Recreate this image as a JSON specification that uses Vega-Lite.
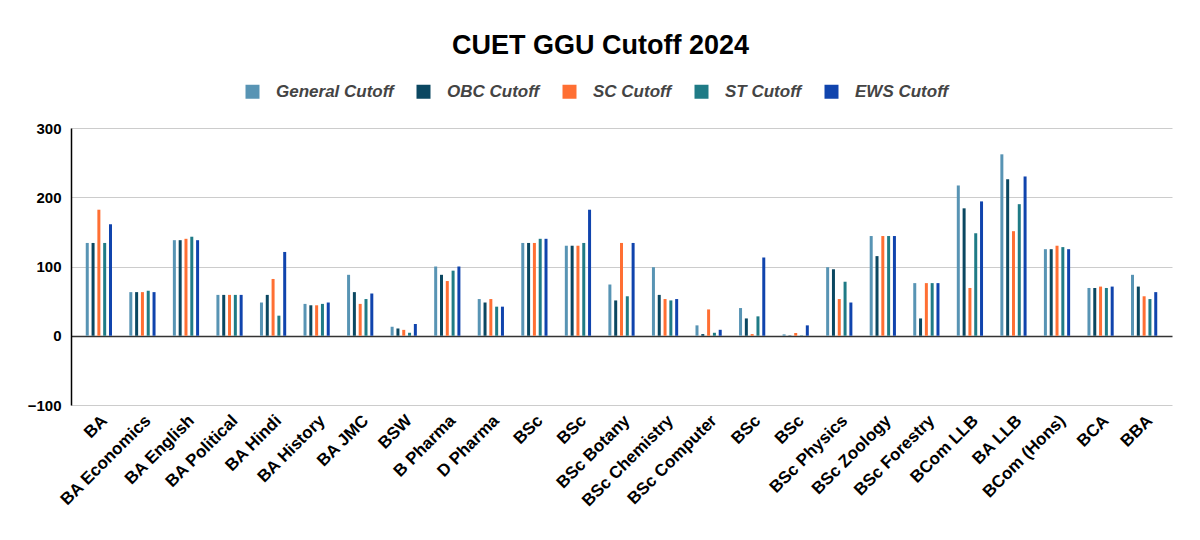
{
"$schema":"https://vega.github.io/schema/vega-lite/v6.json",
"width":1101,"height":277,
"autosize":{"type":"none"},
"padding":{"left":71,"top":128,"right":28,"bottom":135},
"background":"white",
"title":{"text":"CUET GGU Cutoff 2024","font":"Liberation Sans","fontSize":27,"fontWeight":"bold","color":"#000","anchor":"middle","dx":-21,"offset":23},
"data":{"values":[
{"course":"BA","category":"General Cutoff","cutoff":134},{"course":"BA","category":"OBC Cutoff","cutoff":134},{"course":"BA","category":"SC Cutoff","cutoff":182},{"course":"BA","category":"ST Cutoff","cutoff":134},{"course":"BA","category":"EWS Cutoff","cutoff":161},
{"course":"BA Economics","category":"General Cutoff","cutoff":63},{"course":"BA Economics","category":"OBC Cutoff","cutoff":63},{"course":"BA Economics","category":"SC Cutoff","cutoff":63},{"course":"BA Economics","category":"ST Cutoff","cutoff":65},{"course":"BA Economics","category":"EWS Cutoff","cutoff":63},
{"course":"BA English","category":"General Cutoff","cutoff":138},{"course":"BA English","category":"OBC Cutoff","cutoff":138},{"course":"BA English","category":"SC Cutoff","cutoff":140},{"course":"BA English","category":"ST Cutoff","cutoff":143},{"course":"BA English","category":"EWS Cutoff","cutoff":138},
{"course":"BA Political","category":"General Cutoff","cutoff":59},{"course":"BA Political","category":"OBC Cutoff","cutoff":59},{"course":"BA Political","category":"SC Cutoff","cutoff":59},{"course":"BA Political","category":"ST Cutoff","cutoff":59},{"course":"BA Political","category":"EWS Cutoff","cutoff":59},
{"course":"BA Hindi","category":"General Cutoff","cutoff":48},{"course":"BA Hindi","category":"OBC Cutoff","cutoff":59},{"course":"BA Hindi","category":"SC Cutoff","cutoff":82},{"course":"BA Hindi","category":"ST Cutoff","cutoff":29},{"course":"BA Hindi","category":"EWS Cutoff","cutoff":121},
{"course":"BA History","category":"General Cutoff","cutoff":46},{"course":"BA History","category":"OBC Cutoff","cutoff":44},{"course":"BA History","category":"SC Cutoff","cutoff":44},{"course":"BA History","category":"ST Cutoff","cutoff":46},{"course":"BA History","category":"EWS Cutoff","cutoff":48},
{"course":"BA JMC","category":"General Cutoff","cutoff":88},{"course":"BA JMC","category":"OBC Cutoff","cutoff":63},{"course":"BA JMC","category":"SC Cutoff","cutoff":46},{"course":"BA JMC","category":"ST Cutoff","cutoff":53},{"course":"BA JMC","category":"EWS Cutoff","cutoff":61},
{"course":"BSW","category":"General Cutoff","cutoff":13},{"course":"BSW","category":"OBC Cutoff","cutoff":10.5},{"course":"BSW","category":"SC Cutoff","cutoff":8.5},{"course":"BSW","category":"ST Cutoff","cutoff":4.3},{"course":"BSW","category":"EWS Cutoff","cutoff":17},
{"course":"B Pharma","category":"General Cutoff","cutoff":100},{"course":"B Pharma","category":"OBC Cutoff","cutoff":88},{"course":"B Pharma","category":"SC Cutoff","cutoff":79},{"course":"B Pharma","category":"ST Cutoff","cutoff":94},{"course":"B Pharma","category":"EWS Cutoff","cutoff":100},
{"course":"D Pharma","category":"General Cutoff","cutoff":53},{"course":"D Pharma","category":"OBC Cutoff","cutoff":48},{"course":"D Pharma","category":"SC Cutoff","cutoff":53},{"course":"D Pharma","category":"ST Cutoff","cutoff":42},{"course":"D Pharma","category":"EWS Cutoff","cutoff":42},
{"course":"BSc|1","category":"General Cutoff","cutoff":134},{"course":"BSc|1","category":"OBC Cutoff","cutoff":134},{"course":"BSc|1","category":"SC Cutoff","cutoff":134},{"course":"BSc|1","category":"ST Cutoff","cutoff":140},{"course":"BSc|1","category":"EWS Cutoff","cutoff":140},
{"course":"BSc|2","category":"General Cutoff","cutoff":130},{"course":"BSc|2","category":"OBC Cutoff","cutoff":130},{"course":"BSc|2","category":"SC Cutoff","cutoff":130},{"course":"BSc|2","category":"ST Cutoff","cutoff":134},{"course":"BSc|2","category":"EWS Cutoff","cutoff":182},
{"course":"BSc Botany","category":"General Cutoff","cutoff":74},{"course":"BSc Botany","category":"OBC Cutoff","cutoff":51},{"course":"BSc Botany","category":"SC Cutoff","cutoff":134},{"course":"BSc Botany","category":"ST Cutoff","cutoff":57},{"course":"BSc Botany","category":"EWS Cutoff","cutoff":134},
{"course":"BSc Chemistry","category":"General Cutoff","cutoff":99},{"course":"BSc Chemistry","category":"OBC Cutoff","cutoff":59},{"course":"BSc Chemistry","category":"SC Cutoff","cutoff":53},{"course":"BSc Chemistry","category":"ST Cutoff","cutoff":51},{"course":"BSc Chemistry","category":"EWS Cutoff","cutoff":53},
{"course":"BSc Computer","category":"General Cutoff","cutoff":15},{"course":"BSc Computer","category":"OBC Cutoff","cutoff":2.4},{"course":"BSc Computer","category":"SC Cutoff","cutoff":38},{"course":"BSc Computer","category":"ST Cutoff","cutoff":4.3},{"course":"BSc Computer","category":"EWS Cutoff","cutoff":8.6},
{"course":"BSc|3","category":"General Cutoff","cutoff":40},{"course":"BSc|3","category":"OBC Cutoff","cutoff":25},{"course":"BSc|3","category":"SC Cutoff","cutoff":2.4},{"course":"BSc|3","category":"ST Cutoff","cutoff":28},{"course":"BSc|3","category":"EWS Cutoff","cutoff":113},
{"course":"BSc|4","category":"General Cutoff","cutoff":2},{"course":"BSc|4","category":"OBC Cutoff","cutoff":0.5},{"course":"BSc|4","category":"SC Cutoff","cutoff":4},{"course":"BSc|4","category":"ST Cutoff","cutoff":0.5},{"course":"BSc|4","category":"EWS Cutoff","cutoff":15},
{"course":"BSc Physics","category":"General Cutoff","cutoff":99},{"course":"BSc Physics","category":"OBC Cutoff","cutoff":96},{"course":"BSc Physics","category":"SC Cutoff","cutoff":53},{"course":"BSc Physics","category":"ST Cutoff","cutoff":78},{"course":"BSc Physics","category":"EWS Cutoff","cutoff":48},
{"course":"BSc Zoology","category":"General Cutoff","cutoff":144},{"course":"BSc Zoology","category":"OBC Cutoff","cutoff":115},{"course":"BSc Zoology","category":"SC Cutoff","cutoff":144},{"course":"BSc Zoology","category":"ST Cutoff","cutoff":144},{"course":"BSc Zoology","category":"EWS Cutoff","cutoff":144},
{"course":"BSc Forestry","category":"General Cutoff","cutoff":76},{"course":"BSc Forestry","category":"OBC Cutoff","cutoff":25},{"course":"BSc Forestry","category":"SC Cutoff","cutoff":76},{"course":"BSc Forestry","category":"ST Cutoff","cutoff":76},{"course":"BSc Forestry","category":"EWS Cutoff","cutoff":76},
{"course":"BCom LLB","category":"General Cutoff","cutoff":217},{"course":"BCom LLB","category":"OBC Cutoff","cutoff":184},{"course":"BCom LLB","category":"SC Cutoff","cutoff":69},{"course":"BCom LLB","category":"ST Cutoff","cutoff":148},{"course":"BCom LLB","category":"EWS Cutoff","cutoff":194},
{"course":"BA LLB","category":"General Cutoff","cutoff":262},{"course":"BA LLB","category":"OBC Cutoff","cutoff":226},{"course":"BA LLB","category":"SC Cutoff","cutoff":151},{"course":"BA LLB","category":"ST Cutoff","cutoff":190},{"course":"BA LLB","category":"EWS Cutoff","cutoff":230},
{"course":"BCom (Hons)","category":"General Cutoff","cutoff":125},{"course":"BCom (Hons)","category":"OBC Cutoff","cutoff":125},{"course":"BCom (Hons)","category":"SC Cutoff","cutoff":130},{"course":"BCom (Hons)","category":"ST Cutoff","cutoff":128},{"course":"BCom (Hons)","category":"EWS Cutoff","cutoff":125},
{"course":"BCA","category":"General Cutoff","cutoff":69},{"course":"BCA","category":"OBC Cutoff","cutoff":69},{"course":"BCA","category":"SC Cutoff","cutoff":71},{"course":"BCA","category":"ST Cutoff","cutoff":69},{"course":"BCA","category":"EWS Cutoff","cutoff":71},
{"course":"BBA","category":"General Cutoff","cutoff":88},{"course":"BBA","category":"OBC Cutoff","cutoff":71},{"course":"BBA","category":"SC Cutoff","cutoff":57},{"course":"BBA","category":"ST Cutoff","cutoff":53},{"course":"BBA","category":"EWS Cutoff","cutoff":63}
]},
"mark":{"type":"bar","width":3},
"encoding":{
"x":{"field":"course","type":"nominal","sort":null,"scale":{"paddingInner":0.4,"paddingOuter":0.34},
"axis":{"title":null,"labelExpr":"split(datum.value,'|')[0]","labelAngle":-45,"labelFont":"Liberation Sans","labelFontSize":17,"labelFontWeight":"bold","labelColor":"#000","ticks":false,"domain":false,"labelPadding":7,"labelOverlap":false}},
"xOffset":{"field":"category","type":"nominal","sort":["General Cutoff","OBC Cutoff","SC Cutoff","ST Cutoff","EWS Cutoff"],"scale":{"paddingInner":0.5,"paddingOuter":0}},
"y":{"field":"cutoff","type":"quantitative","scale":{"domain":[-100,300],"nice":false,"zero":false},
"axis":{"title":null,"values":[-100,0,100,200,300],"labelFont":"Liberation Sans","labelFontSize":15,"labelFontWeight":"bold","labelColor":"#000","ticks":false,"domainColor":"#000","domainWidth":1.5,"labelPadding":10,
"gridColor":{"condition":{"test":"datum.value===0","value":"#333"},"value":"#cccccc"},
"gridWidth":{"condition":{"test":"datum.value===0","value":1.5},"value":1}}},
"color":{"field":"category","type":"nominal",
"scale":{"domain":["General Cutoff","OBC Cutoff","SC Cutoff","ST Cutoff","EWS Cutoff"],"range":["#5894b4","#0b4761","#ff6f33","#1f7b86","#1044ad"]},
"legend":{"title":null,"orient":"none","legendX":173,"legendY":-45,"direction":"horizontal","symbolType":"square","symbolSize":196,"symbolStrokeWidth":0,"symbolOpacity":1,"labelFont":"Liberation Sans","labelFontStyle":"italic","labelFontWeight":"bold","labelFontSize":17,"labelColor":"#444","labelOffset":15,"columnPadding":21}}
},
"config":{"view":{"stroke":null}}
}
